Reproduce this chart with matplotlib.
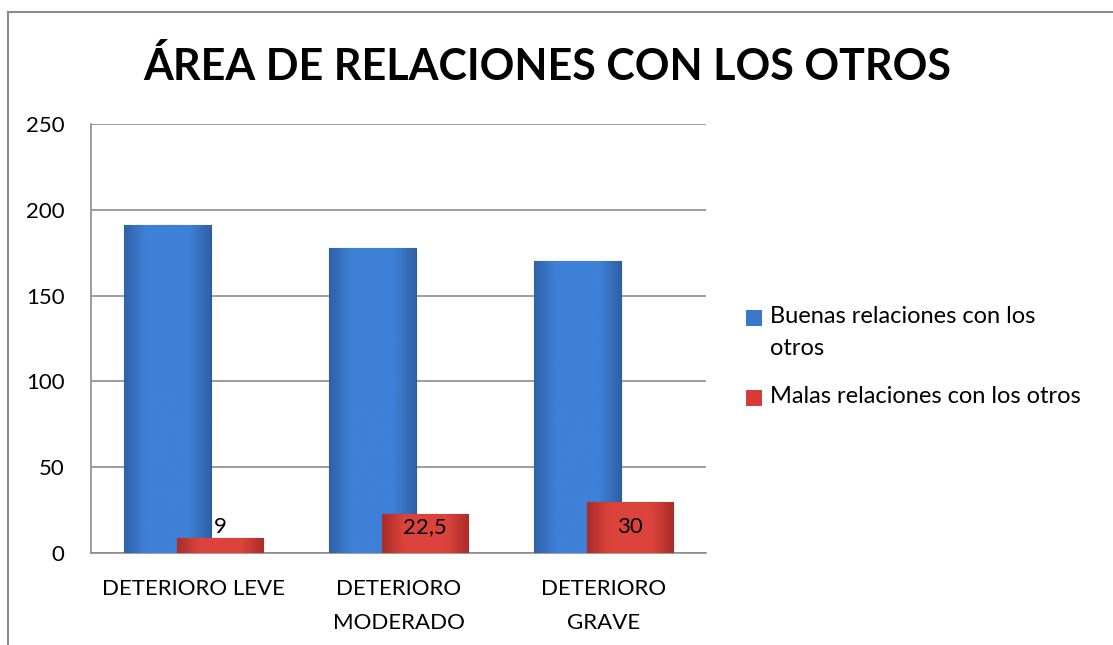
import numpy as np
import matplotlib
matplotlib.use("Agg")
import matplotlib.pyplot as plt
from matplotlib.patches import Rectangle
from matplotlib.lines import Line2D

categories = ["DETERIORO LEVE", "DETERIORO\nMODERADO", "DETERIORO\nGRAVE"]
buenas = [191, 178, 170]
malas = [9, 22.5, 30]
malas_labels = ["9", "22,5", "30"]
series_names = ["Buenas relaciones con los\notros", "Malas relaciones con los otros"]
yticks = [0, 50, 100, 150, 200, 250]

plt.rcParams["font.family"] = ["Lato", "DejaVu Sans"]

fig = plt.figure(figsize=(11.13, 6.45), dpi=100)
ax = fig.add_axes([0.0818, 0.1426, 0.5526, 0.6651])

x = np.arange(len(categories))
w = 0.424
off = 0.129

ax.set_xlim(-0.5, 2.5)
ax.set_ylim(0, 250)


def shade(bars, dark, light):
    # horizontal gradient so the bars look a bit like the excel ones
    cmap = matplotlib.colors.LinearSegmentedColormap.from_list("g", [dark, light, light, light, dark])
    grad = np.linspace(0, 1, 64).reshape(1, -1)
    for b in bars:
        x0, y0 = b.get_x(), b.get_y()
        im = ax.imshow(grad, cmap=cmap, extent=(x0, x0 + b.get_width(), y0, y0 + b.get_height()),
                       aspect="auto", zorder=b.get_zorder() + 0.1, origin="lower")
        im.set_clip_path(b)


b1 = ax.bar(x - off, buenas, w, color="#3b76c9", edgecolor="#2d5a99", linewidth=0.8, zorder=3)
shade(b1, "#2f62a8", "#3f80d8")
b2 = ax.bar(x + off, malas, w, color="#d33d37", edgecolor="#9c2a26", linewidth=0.8, zorder=4)
shade(b2, "#ab2d29", "#dc433c")
ax.set_xlim(-0.5, 2.5)
ax.set_ylim(0, 250)

for xi, lab in zip(x + off, malas_labels):
    ax.text(xi, 15, lab, ha="center", va="center", fontsize=16, color="black", zorder=6)

ax.set_yticks(yticks)
ax.set_xticks(x)
ax.set_xticklabels(categories, fontsize=16, linespacing=1.85)
ax.tick_params(axis="y", length=0, pad=19, labelsize=16)
ax.tick_params(axis="x", length=0, pad=19)
ax.grid(axis="y", color="#8c8c8c", linewidth=1.2, zorder=0)
ax.set_axisbelow(True)
for s in ["top", "right"]:
    ax.spines[s].set_visible(False)
for s in ["left", "bottom"]:
    ax.spines[s].set_color("#8c8c8c")
    ax.spines[s].set_linewidth(1.2)

fig.text(0.4915, 1 - 66 / 645, "ÁREA DE RELACIONES CON LOS OTROS", ha="center", va="center",
         fontsize=31, fontweight="bold")

# legend drawn by hand so the square sits on the first line
colors = ["#3b76c9", "#d33d37"]
leg_y = [1 - 318 / 645, 1 - 398 / 645]
for name, c, yy in zip(series_names, colors, leg_y):
    fig.add_artist(Rectangle((746 / 1113, yy - 8 / 645), 16 / 1113, 16 / 645,
                             transform=fig.transFigure, facecolor=c, edgecolor="none"))
    fig.text(770 / 1113, yy + 12 / 645, name, ha="left", va="top", fontsize=17, linespacing=1.65)

# outer chart border (only top and left are visible)
fig.add_artist(Line2D([8 / 1113, 8 / 1113], [0, 1 - 12 / 645], color="#8c8c8c", lw=1.5,
                      transform=fig.transFigure))
fig.add_artist(Line2D([8 / 1113, 1], [1 - 12 / 645, 1 - 12 / 645], color="#8c8c8c", lw=1.5,
                      transform=fig.transFigure))

fig.savefig("out.png", dpi=100)
